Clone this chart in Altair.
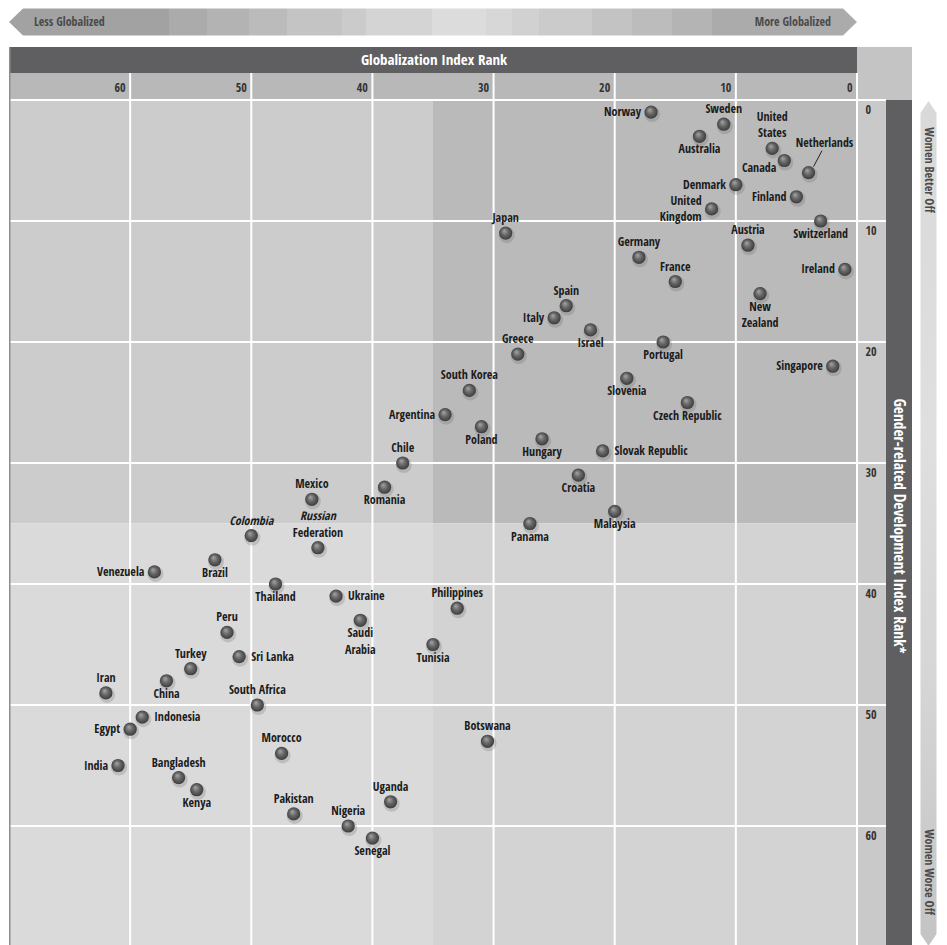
import altair as alt
import pandas as pd

# ---------------- data ----------------
COUNTRIES = [
    "Norway", "Sweden", "Australia", "United States", "Canada", "Netherlands",
    "Denmark", "Finland", "United Kingdom", "Switzerland", "Japan", "Austria",
    "Germany", "Ireland", "France", "New Zealand", "Spain", "Italy", "Israel",
    "Portugal", "Greece", "Singapore", "Slovenia", "South Korea", "Czech Republic",
    "Argentina", "Poland", "Hungary", "Slovak Republic", "Chile", "Croatia",
    "Romania", "Mexico", "Malaysia", "Panama", "Colombia", "Russian Federation",
    "Brazil", "Venezuela", "Thailand", "Ukraine", "Philippines", "Saudi Arabia",
    "Peru", "Tunisia", "Sri Lanka", "Turkey", "China", "Iran", "South Africa",
    "Indonesia", "Egypt", "Botswana", "Morocco", "India", "Bangladesh", "Kenya",
    "Uganda", "Pakistan", "Nigeria", "Senegal",
]
GLOB_RANK = [
    17, 11, 13, 7, 6, 4,
    10, 5, 12, 3, 29, 9,
    18, 1, 15, 8, 24, 25, 22,
    16, 28, 2, 19, 32, 14,
    34, 31, 26, 21, 37.5, 23,
    39, 45, 20, 27, 50, 44.5,
    53, 58, 48, 43, 33, 41,
    52, 35, 51, 55, 57, 62, 49.5,
    59, 60, 30.5, 47.5, 61, 56, 54.5,
    38.5, 46.5, 42, 40,
]
GDI_RANK = list(range(1, 62))

# label placement: L left, R right, T above, B below, LB left-low, TR above-right with leader
LABEL_SIDE = [
    "L", "T", "B", "T", "LB", "TR",
    "L", "L", "L", "B", "T", "T",
    "T", "L", "T", "B", "T", "L", "B",
    "B", "T", "L", "B", "T", "B",
    "L", "B", "B", "R", "T", "B",
    "B", "T", "B", "B", "T", "T",
    "B", "L", "B", "R", "T", "B",
    "T", "B", "R", "T", "B", "T", "T",
    "R", "L", "T", "T", "L", "T", "B",
    "T", "T", "T", "B",
]
LINE_TEXT = {
    "United States": "United\nStates",
    "United Kingdom": "United\nKingdom",
    "New Zealand": "New\nZealand",
    "Saudi Arabia": "Saudi\nArabia",
    "Russian Federation": "Federation",
    "Colombia": "",
}
ITALIC_TEXT = {"Colombia": "Colombia", "Russian Federation": "Russian"}

TICKS = [0, 10, 20, 30, 40, 50, 60]
DOMAIN = [0, 70]
SPLIT = 35

X_TITLE = "Globalization Index Rank"
Y_TITLE = "Gender-related Development Index Rank*"

# ---------------- layout / style ----------------
W, H = 848, 847
FONT = ("'Open Sans Condensed', 'Roboto Condensed', 'Liberation Sans Narrow', "
        "'Arial Narrow', Roboto, sans-serif")
DARK = "#5f5f62"
TICKBAND = "#b8b8b8"
LH = 16.5

df = pd.DataFrame({"country": COUNTRIES, "glob": GLOB_RANK, "gdi": GDI_RANK, "side": LABEL_SIDE})
df["label"] = [LINE_TEXT.get(c, c) for c in COUNTRIES]
df["italic"] = [ITALIC_TEXT.get(c, "") for c in COUNTRIES]
df["lines"] = [s.count("\n") + 1 for s in df["label"]]

quad = pd.DataFrame({
    "x1": [DOMAIN[1], SPLIT, DOMAIN[1], SPLIT],
    "x2": [SPLIT, DOMAIN[0], SPLIT, DOMAIN[0]],
    "y1": [DOMAIN[0], DOMAIN[0], SPLIT, SPLIT],
    "y2": [SPLIT, SPLIT, DOMAIN[1], DOMAIN[1]],
    "fill": ["#cccccc", "#bababa", "#dadada", "#d3d3d3"],
})
ticks_df = pd.DataFrame({"t": TICKS})
ONE = pd.DataFrame({"k": [0]})

xscale = alt.Scale(domain=DOMAIN, reverse=True, nice=False, zero=False)
yscale = alt.Scale(domain=DOMAIN, reverse=True, nice=False, zero=False)
xaxis = alt.Axis(orient="top", values=TICKS, grid=False, domain=False, ticks=False,
                 tickSize=0, labelPadding=13, labelAlign="right", labelBaseline="middle",
                 labelOffset=-5, labelFlush=False, labelOverlap=False, labelFont=FONT,
                 labelFontSize=12, labelFontWeight="bold", labelColor="#333333",
                 title=None, zindex=1)
yaxis = alt.Axis(orient="right", values=TICKS, grid=False, domain=False, ticks=False,
                 tickSize=0, labelPadding=8, labelAlign="left", labelBaseline="top",
                 labelOffset=4, labelFlush=False, labelOverlap=False, labelFont=FONT,
                 labelFontSize=12, labelFontWeight="bold", labelColor="#333333",
                 title=None, zindex=1)


def X(f):
    return alt.X(f, type="quantitative", scale=xscale, axis=xaxis)


def Y(f):
    return alt.Y(f, type="quantitative", scale=yscale, axis=yaxis)


def band(x1, x2, y1, y2, color):
    return alt.Chart(ONE).mark_rect(color=color).encode(
        x=alt.value(x1), x2=alt.value(x2), y=alt.value(y1), y2=alt.value(y2))


layers = []

# quadrant shading
layers.append(alt.Chart(quad).mark_rect().encode(
    x=X("x1"), x2="x2", y=Y("y1"), y2="y2", color=alt.Color("fill:N", scale=None)))

# header bands
layers.append(band(0, W, -27, 0, TICKBAND))
layers.append(band(0, W, -53, -27, DARK))
layers.append(band(W, 903, -53, 0, "#c4c4c4"))
layers.append(band(W, 877, 0, H, "#c9c9c9"))
layers.append(band(877, 903, 0, H, DARK))

# top arrow
t, h = 14 / 424, 13.5 / 424
top_path = f"M -1 0 L {-1 + t} {-h} L {1 - t} {-h} L 1 0 L {1 - t} {h} L {-1 + t} {h} Z"
edges = [170, 208, 250, 288, 343, 367, 433, 487, 513, 540, 593, 633, 673, 713]
cols = ["#a2a2a2", "#ababab", "#b3b3b3", "#bbbbbb", "#c4c4c4", "#cbcbcb", "#d4d4d4",
        "#dcdcdc", "#d7d7d7", "#d1d1d1", "#cbcbcb", "#c3c3c3", "#bcbcbc", "#b4b4b4", "#ababab"]
stops = [alt.GradientStop(offset=0, color=cols[0])]
for i, e in enumerate(edges):
    o = (e - 10) / 848
    stops.append(alt.GradientStop(offset=o, color=cols[i]))
    stops.append(alt.GradientStop(offset=o, color=cols[i + 1]))
stops.append(alt.GradientStop(offset=1, color=cols[-1]))
layers.append(alt.Chart(ONE).mark_point(
    shape=top_path, size=848 ** 2, filled=True, opacity=1, strokeWidth=0,
    fill=alt.LinearGradient(gradient="linear", x1=0, x2=1, y1=0, y2=0, stops=stops),
).encode(x=alt.value(424), y=alt.value(-78)))

# right arrow (kept inside the page width)
RA_C, RA_HALF = 919.5, (H - 2) / 2
w2, t2 = 8 / RA_HALF, 12 / RA_HALF
right_path = (f"M 0 -1 L {w2} {-1 + t2} L {w2} {1 - t2} L 0 1 L {-w2} {1 - t2} "
              f"L {-w2} {-1 + t2} Z")
layers.append(alt.Chart(ONE).mark_point(
    shape=right_path, size=(2 * RA_HALF) ** 2, filled=True, opacity=1, strokeWidth=0,
    fill=alt.LinearGradient(gradient="linear", x1=0, x2=0, y1=0, y2=1, stops=[
        alt.GradientStop(offset=0, color="#d9d9d9"),
        alt.GradientStop(offset=0.4, color="#dfdfdf"),
        alt.GradientStop(offset=0.7, color="#d5d5d5"),
        alt.GradientStop(offset=1, color="#c4c4c4")]),
).encode(x=alt.value(RA_C), y=alt.value(1 + RA_HALF)))

# gridlines
layers.append(alt.Chart(ticks_df).mark_rule(color="white", strokeWidth=2).encode(
    x=X("t"), y=alt.value(-27), y2=alt.value(H)))
layers.append(alt.Chart(ticks_df).mark_rule(color="white", strokeWidth=2).encode(
    y=Y("t"), x=alt.value(0), x2=alt.value(877)))
# left border
layers.append(alt.Chart(ONE).mark_rule(color="#8e8e8e", strokeWidth=1.5).encode(
    x=alt.value(0.75), y=alt.value(-53), y2=alt.value(H)))

# points
layers.append(alt.Chart(df).mark_circle(size=260, color="#5a5a5a", opacity=0.22,
                                        xOffset=1, yOffset=2).encode(x=X("glob"), y=Y("gdi")))
layers.append(alt.Chart(df).mark_circle(
    size=175, opacity=1,
    fill=alt.RadialGradient(gradient="radial", x1=0.38, y1=0.32, r1=0, x2=0.5, y2=0.5, r2=0.55,
                            stops=[alt.GradientStop(offset=0, color="#a8a8a8"),
                                   alt.GradientStop(offset=0.45, color="#6a6a6a"),
                                   alt.GradientStop(offset=1, color="#363636")]),
).encode(x=X("glob"), y=Y("gdi")))

# leader line (Netherlands)
layers.append(alt.Chart(df).transform_filter(alt.datum.side == "TR").mark_rule(
    color="#222222", strokeWidth=1, xOffset=5, yOffset=-6, x2Offset=13.5, y2Offset=-22
).encode(x=X("glob"), x2="glob", y=Y("gdi"), y2="gdi"))

# labels
SIDE_STYLE = {
    "T": dict(align="center", baseline="bottom", dx=0, dy=-8),
    "B": dict(align="center", baseline="top", dx=0, dy=8),
    "L": dict(align="right", baseline="middle", dx=-10, dy=0),
    "R": dict(align="left", baseline="middle", dx=12, dy=0),
    "LB": dict(align="right", baseline="middle", dx=-8, dy=7),
    "TR": dict(align="center", baseline="bottom", dx=16, dy=-23),
}
# extra upward shift per additional line, by placement
LINE_SHIFT = {"T": LH, "B": 0, "L": LH / 2, "R": LH / 2, "LB": LH / 2, "TR": LH}
LBL = dict(font=FONT, fontSize=12, fontWeight="bold", color="#1c1c1c",
           lineBreak="\n", lineHeight=LH)
for code, st in SIDE_STYLE.items():
    for n in (1, 2):
        s = dict(st)
        s["dy"] = st["dy"] - (n - 1) * LINE_SHIFT[code]
        layers.append(alt.Chart(df).transform_filter(
            (alt.datum.side == code) & (alt.datum.lines == n)).mark_text(
            **LBL, **s).encode(x=X("glob"), y=Y("gdi"), text="label:N"))
layers.append(alt.Chart(df).transform_filter(
    (alt.datum.italic != "") & (alt.datum.label == "")).mark_text(
    **LBL, fontStyle="italic", align="center", baseline="bottom", dy=-8
).encode(x=X("glob"), y=Y("gdi"), text="italic:N"))
layers.append(alt.Chart(df).transform_filter(
    (alt.datum.italic != "") & (alt.datum.label != "")).mark_text(
    **LBL, fontStyle="italic", align="center", baseline="bottom", dy=-8 - LH
).encode(x=X("glob"), y=Y("gdi"), text="italic:N"))

# header texts
layers.append(alt.Chart(ONE).mark_text(
    text=X_TITLE, font=FONT, fontSize=15, fontWeight="bold", color="white",
    align="center", baseline="middle").encode(x=alt.value(425), y=alt.value(-40)))
layers.append(alt.Chart(ONE).mark_text(
    text=Y_TITLE, font=FONT, fontSize=15.5, fontWeight="bold", color="white", angle=90,
    align="center", baseline="middle").encode(x=alt.value(890), y=alt.value(426)))
ARROW_TXT = dict(font=FONT, fontSize=12, color="#4a4a4a", baseline="middle")
layers.append(alt.Chart(ONE).mark_text(text="Less Globalized", align="left", **ARROW_TXT)
              .encode(x=alt.value(25), y=alt.value(-78)))
layers.append(alt.Chart(ONE).mark_text(text="More Globalized", align="right", **ARROW_TXT)
              .encode(x=alt.value(822), y=alt.value(-78)))
layers.append(alt.Chart(ONE).mark_text(text="Women Better Off", align="center", angle=90,
                                       **ARROW_TXT).encode(x=alt.value(RA_C), y=alt.value(70)))
layers.append(alt.Chart(ONE).mark_text(text="Women Worse Off", align="center", angle=90,
                                       **ARROW_TXT).encode(x=alt.value(RA_C), y=alt.value(772)))

chart = alt.layer(*layers).properties(
    width=W, height=H, padding={"left": 0, "top": 0, "right": 0, "bottom": 0},
    background="white",
).configure_view(stroke=None)

chart.save("out.html", embed_options={"renderer": "svg", "actions": False})
